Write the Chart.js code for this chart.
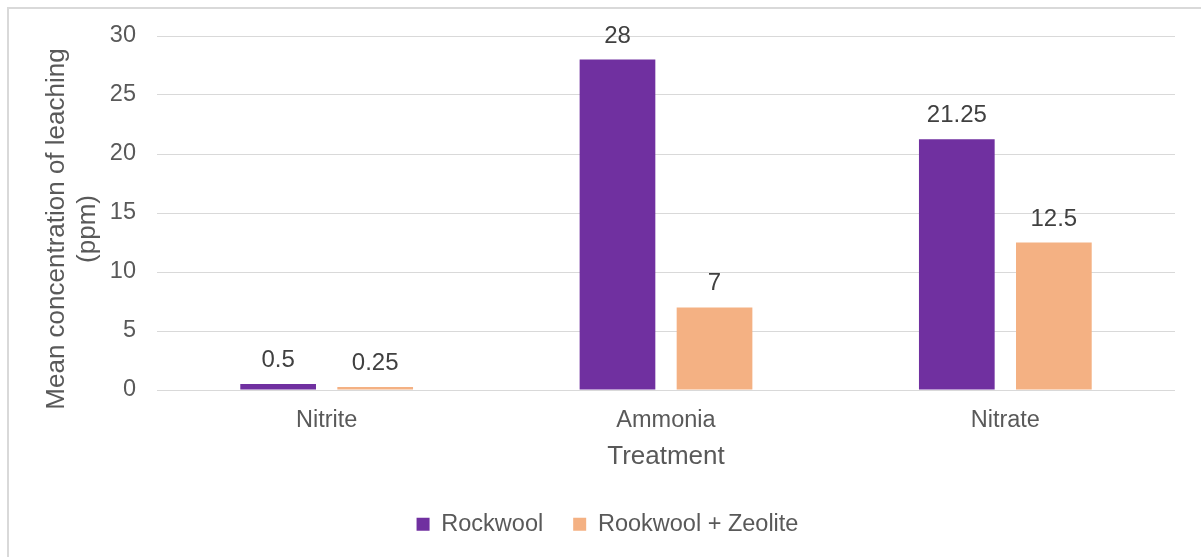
<!DOCTYPE html>
<html>
<head>
<meta charset="utf-8">
<script src="https://cdn.jsdelivr.net/npm/chart.js@4"></script>
<style>
  html, body { margin: 0; padding: 0; background: #fff; overflow: hidden; }
  #wrap { width: 1201px; height: 557px; }
</style>
</head>
<body>
<div id="wrap"><canvas id="leachChart"></canvas></div>
<script>
// chart values
const treatments = ["Nitrite", "Ammonia", "Nitrate"];
const rockwool = [0.5, 28, 21.25];
const rockwoolZeolite = [0.25, 7, 12.5];
const seriesNames = ["Rockwool", "Rookwool + Zeolite"];
const yTicks = { min: 0, max: 30, step: 5 };
const yTitle = ["Mean concentration of leaching", "(ppm)"];

const FONT = "'Liberation Sans', Arial, sans-serif";
const TEXT = "#595959";

// outer frame like the office chart box
const framePlugin = {
    id: "frame",
    beforeDraw(chart) {
        const ctx = chart.ctx;
        ctx.save();
        ctx.fillStyle = "#fff";
        ctx.fillRect(0, 0, chart.width, chart.height);
        ctx.strokeStyle = "#d9d9d9";
        ctx.lineWidth = 2;
        ctx.strokeRect(8, 8, chart.width + 20, chart.height + 20);
        ctx.restore();
    }
};

// y axis title, sat a bit lower than the plot middle like the original
const yTitlePlugin = {
    id: "yTitle",
    afterDraw(chart) {
        const ctx = chart.ctx;
        const area = chart.chartArea;
        ctx.save();
        ctx.font = "26px " + FONT;
        ctx.fillStyle = TEXT;
        ctx.textAlign = "center";
        ctx.textBaseline = "middle";
        ctx.translate(57, (area.top + area.bottom) / 2 + 16);
        ctx.rotate(-Math.PI / 2);
        yTitle.forEach((line, i) => ctx.fillText(line, 0, i * 31));
        ctx.restore();
    }
};

// value labels above bars
const valueLabels = {
    id: "valueLabels",
    afterDatasetsDraw(chart) {
        const ctx = chart.ctx;
        ctx.save();
        ctx.font = "24px " + FONT;
        ctx.fillStyle = "#404040";
        ctx.textAlign = "center";
        ctx.textBaseline = "alphabetic";
        chart.data.datasets.forEach((ds, i) => {
            chart.getDatasetMeta(i).data.forEach((bar, j) => {
                ctx.fillText(String(ds.data[j]), bar.x, bar.y - 17);
            });
        });
        ctx.restore();
    }
};

const leach_ctx = document.getElementById("leachChart").getContext("2d");
new Chart(leach_ctx, {
    type: "bar",
    data: {
        labels: treatments,
        datasets: [
            {
                label: seriesNames[0],
                data: rockwool,
                backgroundColor: "#7030a0", // purple
                categoryPercentage: 0.572,
                barPercentage: 0.78
            },
            {
                label: seriesNames[1],
                data: rockwoolZeolite,
                backgroundColor: "#f4b183", // peach
                categoryPercentage: 0.572,
                barPercentage: 0.78
            }
        ]
    },
    options: {
        responsive: true,
        maintainAspectRatio: false,
        animation: false,
        layout: { padding: { left: 40, right: 26, top: 36, bottom: 11 } },
        plugins: {
            legend: {
                position: "bottom",
                labels: {
                    boxWidth: 13,
                    boxHeight: 13,
                    padding: 30,
                    color: TEXT,
                    font: { family: FONT, size: 23.5 }
                }
            },
            tooltip: { enabled: false }
        },
        scales: {
            x: {
                grid: { display: false, drawTicks: false },
                border: { display: false },
                ticks: {
                    color: TEXT,
                    padding: 16,
                    font: { family: FONT, size: 23.5 }
                },
                title: {
                    display: true,
                    text: "Treatment",
                    color: TEXT,
                    font: { family: FONT, size: 26 },
                    padding: { top: 0, bottom: 10.5 }
                },
                afterFit(scale) { scale.height = 92.5; }
            },
            y: {
                min: yTicks.min,
                max: yTicks.max,
                grid: { color: "#d9d9d9", lineWidth: 1, drawTicks: false },
                border: { display: false },
                ticks: {
                    stepSize: yTicks.step,
                    color: TEXT,
                    padding: 21,
                    font: { family: FONT, size: 23.5 }
                },
                afterFit(scale) { scale.width = 117; }
            }
        }
    },
    plugins: [framePlugin, valueLabels, yTitlePlugin]
});
</script>
</body>
</html>
